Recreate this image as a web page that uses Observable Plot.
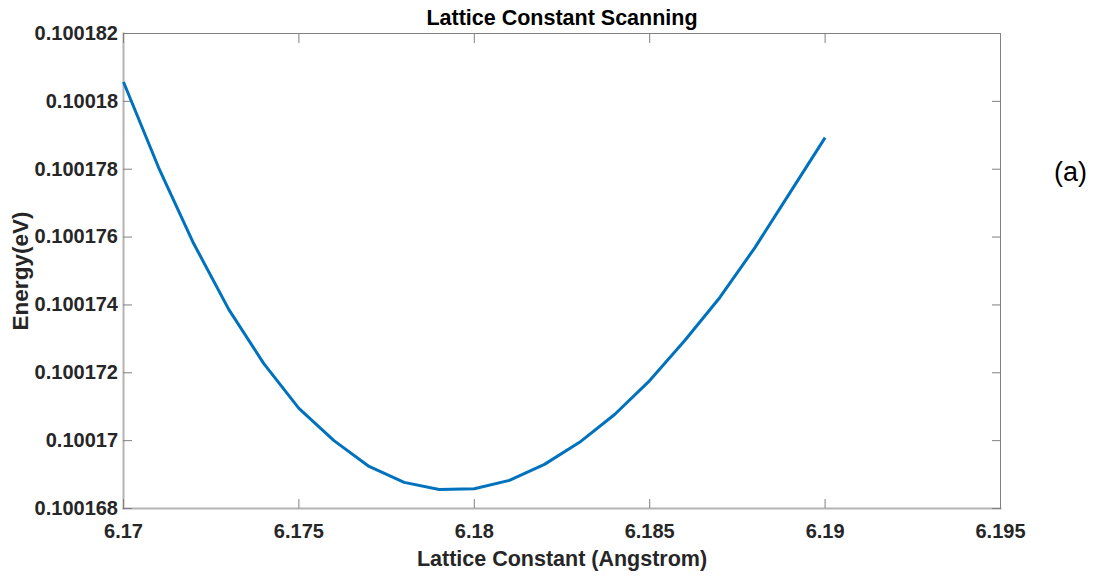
<!DOCTYPE html>
<html>
<head>
<meta charset="utf-8">
<script src="https://cdn.jsdelivr.net/npm/d3@7"></script>
<script src="https://cdn.jsdelivr.net/npm/@observablehq/plot@0.6"></script>
<style>
  html, body { margin: 0; padding: 0; background: #fff; }
  #chart { width: 1094px; height: 576px; }
</style>
</head>
<body>
<div id="chart"></div>
<script>
// Lattice constant scan: total energy at each trial lattice constant
const latticeConstant = [6.170, 6.171, 6.172, 6.173, 6.174, 6.175, 6.176, 6.177, 6.178, 6.179,
                         6.180, 6.181, 6.182, 6.183, 6.184, 6.185, 6.186, 6.187, 6.188, 6.189, 6.190];
const energy = [0.10018057, 0.10017805, 0.10017581, 0.10017387, 0.10017227, 0.10017095, 0.10017000,
                0.10016924, 0.10016877, 0.10016856, 0.10016858, 0.10016883, 0.10016930, 0.10016995,
                0.10017077, 0.10017177, 0.10017295, 0.10017422, 0.10017569, 0.10017731, 0.10017893];

const xTicks = [6.170, 6.175, 6.180, 6.185, 6.190, 6.195];
const yTicks = [0.100168, 0.100170, 0.100172, 0.100174, 0.100176, 0.100178, 0.100180, 0.100182];

const titleText = "Lattice Constant Scanning";
const xLabel = "Lattice Constant (Angstrom)";
const yLabel = "Energy(eV)";
const panelTag = "(a)";

const rows = latticeConstant.map((a, i) => ({a, e: energy[i]}));

const fmtX = d => String(+d.toFixed(3));
const fmtY = d => String(+d.toFixed(6));

const tickColor = "#808080";
const textColor = "#262626";

const chart = Plot.plot({
  width: 1094,
  height: 576,
  marginLeft: 123,
  marginRight: 94,
  marginTop: 33,
  marginBottom: 68,
  style: {fontFamily: "'Liberation Sans', Arial, sans-serif", background: "#fff", color: textColor},
  x: {domain: [6.170, 6.195]},
  y: {domain: [0.100168, 0.100182]},
  marks: [
    // box outline
    Plot.frame({anchor: "left", stroke: "#b4b4b4", strokeWidth: 2}),
    Plot.frame({anchor: "bottom", stroke: "#b4b4b4", strokeWidth: 2}),
    Plot.frame({anchor: "top", stroke: tickColor, strokeWidth: 1}),
    Plot.frame({anchor: "right", stroke: tickColor, strokeWidth: 1}),
    // inward ticks on all four sides
    Plot.axisX(xTicks, {anchor: "bottom", tickSize: -9, stroke: tickColor, fill: "none", label: null}),
    Plot.axisX(xTicks, {anchor: "top", tickSize: -9, stroke: tickColor, fill: "none", label: null}),
    Plot.axisY(yTicks, {anchor: "left", tickSize: -9, stroke: tickColor, fill: "none", label: null}),
    Plot.axisY(yTicks, {anchor: "right", tickSize: -9, stroke: tickColor, fill: "none", label: null}),
    // tick labels
    Plot.axisX(xTicks, {anchor: "bottom", tickSize: 0, tickPadding: 15, tickFormat: fmtX,
      fontSize: 20, fontWeight: "bold", fill: textColor, label: null}),
    Plot.axisY(yTicks, {anchor: "left", tickSize: 0, tickPadding: 5.5, tickFormat: fmtY,
      fontSize: 20, fontWeight: "bold", fill: textColor, label: null}),
    // energy curve
    Plot.line(rows, {x: "a", y: "e", stroke: "#0072BD", strokeWidth: 3,
      strokeLinejoin: "round", strokeLinecap: "butt"}),
    // title and axis titles
    Plot.text([titleText], {frameAnchor: "top", dy: -9, lineAnchor: "bottom",
      fontSize: 21.5, fontWeight: "bold", fill: "#000"}),
    Plot.text([xLabel], {frameAnchor: "bottom", dy: 57, lineAnchor: "bottom",
      fontSize: 21.5, fontWeight: "bold", fill: textColor}),
    Plot.text([yLabel], {frameAnchor: "left", dx: -96, rotate: -90, textAnchor: "middle",
      lineAnchor: "bottom", fontSize: 22.5, fontWeight: "bold", fill: textColor}),
    Plot.text([panelTag], {frameAnchor: "top-right", dx: 70, dy: 147, textAnchor: "middle",
      lineAnchor: "bottom", fontSize: 27, fill: "#000"})
  ]
});

document.getElementById("chart").appendChild(chart);
</script>
</body>
</html>
